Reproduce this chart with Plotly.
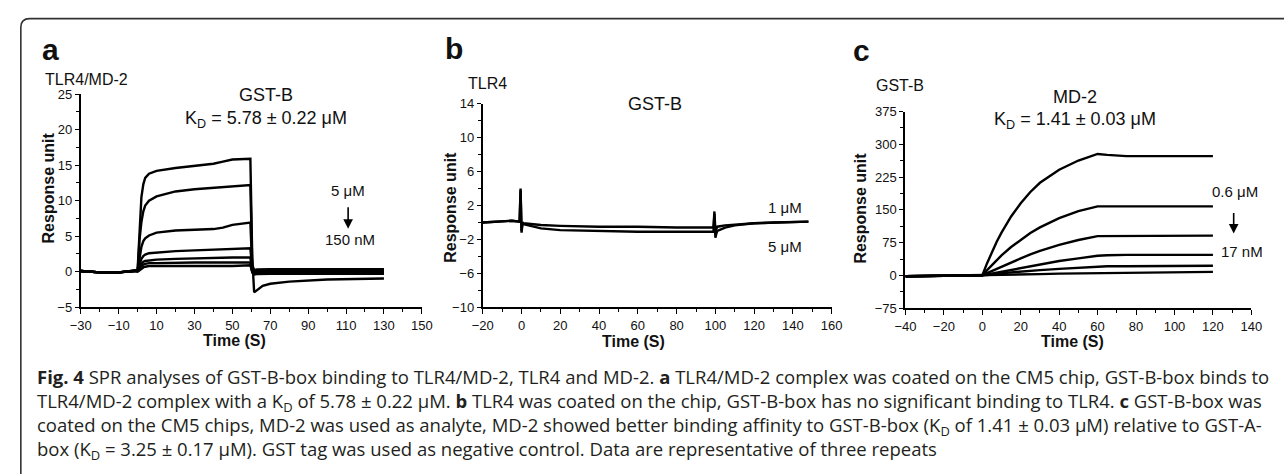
import plotly.graph_objects as go

W, H = 1284, 474

# ---------------- data ----------------
# Panel a: TLR4/MD-2 chip, GST-B analyte (5 uM -> 150 nM)
t_a = [-30, -20, -10, -2, 0, 0.5, 1, 2, 3, 4, 6, 10, 20, 30, 40, 45, 50, 59.5,
       60.5, 61.5, 63, 66, 70, 80, 100, 130]
a_curves = [
    [0.1, -0.1, -0.1, 0.1, 0.3, 3.0, 7.0, 10.5, 12.3, 13.2, 13.8, 14.2, 14.6, 14.9, 15.2, 15.5, 15.8, 15.9,
     2.0, -2.9, -2.6, -2.0, -1.7, -1.4, -1.1, -0.95],
    [0.1, -0.1, -0.1, 0.1, 0.2, 2.0, 4.5, 7.0, 8.5, 9.3, 10.0, 10.6, 11.3, 11.6, 11.8, 11.9, 12.1, 12.2,
     1.0, 0.2, 0.3, 0.35, 0.35, 0.35, 0.35, 0.35],
    [0.1, -0.1, -0.1, 0.1, 0.2, 1.0, 2.0, 3.5, 4.3, 4.7, 5.1, 5.5, 5.8, 5.9, 6.0, 6.2, 6.6, 6.9,
     0.5, 0.1, 0.15, 0.15, 0.15, 0.15, 0.15, 0.15],
    [0.1, -0.1, -0.1, 0.1, 0.1, 0.5, 1.0, 1.8, 2.2, 2.4, 2.6, 2.7, 2.9, 3.0, 3.1, 3.2, 3.3, 3.3,
     0.2, -0.1, 0.0, 0.0, 0.0, 0.0, 0.0, 0.0],
    [0.1, -0.1, -0.1, 0.1, 0.1, 0.3, 0.7, 1.1, 1.4, 1.5, 1.6, 1.7, 1.8, 1.9, 1.9, 2.0, 2.0, 2.0,
     0.0, -0.3, -0.25, -0.2, -0.2, -0.2, -0.2, -0.2],
    [0.1, -0.1, -0.1, 0.1, 0.1, 0.2, 0.5, 0.8, 1.0, 1.1, 1.2, 1.2, 1.3, 1.3, 1.3, 1.3, 1.3, 1.3,
     -0.1, -0.4, -0.35, -0.3, -0.3, -0.3, -0.3, -0.3],
    [0.1, -0.1, -0.1, 0.1, 0.0, 0.1, 0.3, 0.5, 0.6, 0.7, 0.8, 0.8, 0.8, 0.8, 0.7, 0.8, 0.8, 0.9,
     0.0, 0.2, 0.2, 0.2, 0.2, 0.2, 0.2, 0.2],
]

# Panel b: TLR4 chip, GST-B analyte (1 uM and 5 uM)
t_b = [-20, -10, -5, -1, -0.5, 0, 0.5, 1, 5, 10, 20, 40, 60, 80, 99, 99.5, 100, 100.5,
       101, 105, 110, 120, 130, 148]
b_1uM = [0.0, 0.1, 0.2, 0.1, 4.0, -1.0, 0.0, -0.1, -0.2, -0.3, -0.4, -0.5, -0.5, -0.6, -0.6, 1.3,
         -1.0, -0.6, -0.5, -0.35, -0.25, -0.1, 0.0, 0.1]
b_5uM = [0.0, 0.1, 0.2, 0.1, 3.8, -1.2, -0.1, -0.2, -0.4, -0.7, -0.9, -1.0, -1.1, -1.1, -1.1, 1.0,
         -1.8, -1.3, -1.0, -0.6, -0.35, -0.1, 0.0, 0.1]

# Panel c: GST-B chip, MD-2 analyte (0.6 uM -> 17 nM)
t_c = [-40, -20, 0, 2.5, 5, 7.5, 10, 15, 20, 25, 30, 40, 50, 60, 65, 75, 100, 120]
c_curves = [
    [-2, -1, 0, 28, 53, 77, 98, 135, 165, 191, 212, 242, 263, 278, 276, 273, 273, 273],
    [-2, -1, 0, 12, 24, 35, 46, 65, 82, 97, 110, 131, 147, 158, 158, 158, 158, 158],
    [-2, -1, 0, 5, 10, 15, 20, 30, 39, 48, 56, 70, 81, 90, 90, 91, 91, 91],
    [-2, -1, 0, 2, 4, 6, 8, 12, 17, 21, 25, 33, 39, 45, 46, 47, 47, 47],
    [-2, -1, 0, 1, 2, 4, 5, 7, 9, 10.5, 12, 15, 18, 20, 21, 21, 22, 22],
    [-2, -1, 0, 0.5, 0.8, 1, 1.2, 1.6, 2, 2.5, 3, 4, 4.5, 5, 6, 7, 7.5, 8],
]

caption_lines = [
    "<b>Fig. 4</b> SPR analyses of GST-B-box binding to TLR4/MD-2, TLR4 and MD-2. <b>a</b> TLR4/MD-2 complex was coated on the CM5 chip, GST-B-box binds to",
    "TLR4/MD-2 complex with a K<sub>D</sub> of 5.78 ± 0.22 μM. <b>b</b> TLR4 was coated on the chip, GST-B-box has no significant binding to TLR4. <b>c</b> GST-B-box was",
    "coated on the CM5 chips, MD-2 was used as analyte, MD-2 showed better binding affinity to GST-B-box (K<sub>D</sub> of 1.41 ± 0.03 μM) relative to GST-A-",
    "box (K<sub>D</sub> = 3.25 ± 0.17 μM). GST tag was used as negative control. Data are representative of three repeats",
]

# ---------------- helpers ----------------
def px(x):
    return x / W

def py(y):
    return 1 - y / H

FONT = "Liberation Sans, Arial, sans-serif"
LINE = dict(color="black", width=2.4)

fig = go.Figure()

for ys in a_curves:
    fig.add_trace(go.Scatter(x=t_a, y=ys, mode="lines", line=LINE, xaxis="x", yaxis="y",
                             showlegend=False, hoverinfo="skip"))
for ys in (b_1uM, b_5uM):
    fig.add_trace(go.Scatter(x=t_b, y=ys, mode="lines", line=LINE, xaxis="x2", yaxis="y2",
                             showlegend=False, hoverinfo="skip"))
for ys in c_curves:
    fig.add_trace(go.Scatter(x=t_c, y=ys, mode="lines", line=LINE, xaxis="x3", yaxis="y3",
                             showlegend=False, hoverinfo="skip"))

def xax(dom, rng, tick0, dtick, mdt, anchor):
    return dict(domain=[px(dom[0]), px(dom[1])], range=rng, tick0=tick0, dtick=dtick,
                showline=True, linecolor="black", linewidth=2, ticks="outside", ticklen=5,
                tickwidth=1.2, tickcolor="black", showgrid=False, zeroline=False, anchor=anchor,
                tickfont=dict(family=FONT, size=13, color="#111"),
                minor=dict(ticks="outside", dtick=mdt, tick0=tick0, ticklen=3, tickcolor="black", tickwidth=1),
                fixedrange=True)

def yax(dom, rng, tick0, dtick, mdt, anchor):
    return dict(domain=[py(dom[1]), py(dom[0])], range=rng, tick0=tick0, dtick=dtick,
                showline=True, linecolor="black", linewidth=2, ticks="outside", ticklen=4,
                tickwidth=1.2, tickcolor="black", showgrid=False, zeroline=False, anchor=anchor,
                tickfont=dict(family=FONT, size=13, color="#111"),
                minor=dict(ticks="outside", dtick=mdt, tick0=tick0, ticklen=3, tickcolor="black", tickwidth=1),
                fixedrange=True)

fig.update_layout(
    width=W, height=H, autosize=False,
    margin=dict(l=0, r=0, t=0, b=0),
    paper_bgcolor="white", plot_bgcolor="white",
    xaxis=xax((71, 418), [-30, 150], -30, 20, 10, "y"),
    yaxis=yax((90, 310), [-5, 25], -5, 5, 2.5, "x"),
    xaxis2=xax((480, 835), [-20, 160], -20, 20, 10, "y2"),
    yaxis2=yax((100, 310), [-10, 14], -10, 4, 2, "x2"),
    xaxis3=xax((910, 1262), [-40, 140], -40, 20, 10, "y3"),
    yaxis3=yax((108, 311), [-75, 375], -75, 75, 37.5, "x3"),
)

ann = []

def text(x, y, s, size=14, bold=False, xanchor="center", angle=0, family=FONT, color="#111", align="center"):
    ann.append(dict(x=px(x), y=py(y), xref="paper", yref="paper", text=(f"<b>{s}</b>" if bold else s),
                    showarrow=False, xanchor=xanchor, yanchor="middle", textangle=angle, align=align,
                    font=dict(family=family, size=size, color=color)))

def arrow(x, y0, y1):
    ann.append(dict(x=px(x), y=py(y1), xref="paper", yref="paper", ax=0, ay=-(y1 - y0),
                    axref="pixel", ayref="pixel", text="", showarrow=True, arrowhead=2,
                    arrowsize=1.2, arrowwidth=1.6, arrowcolor="black"))

# panel letters
text(40, 44, "a", size=30, bold=True)
text(451, 43, "b", size=30, bold=True)
text(865, 45, "c", size=30, bold=True)

# panel a
text(33, 75, "TLR4/MD-2", size=16, xanchor="left")
text(259, 91, "GST-B", size=18)
text(259, 116, "K<sub>D</sub> = 5.78 ± 0.22 μM", size=18)
text(343, 190, "5 μM", size=15)
arrow(343, 206, 229)
text(345, 240, "150 nM", size=15)
text(38, 187, "Response unit", size=16, bold=True, angle=-90)
text(227, 344, "Time (S)", size=16, bold=True)

# panel b
text(463, 79, "TLR4", size=16, xanchor="left")
text(655, 100, "GST-B", size=18)
text(787, 207, "1 μM", size=15)
text(787, 247, "5 μM", size=15)
text(447, 207, "Response unit", size=16, bold=True, angle=-90)
text(633, 345, "Time (S)", size=16, bold=True)

# panel c
text(878, 81, "GST-B", size=16, xanchor="left")
text(1083, 93, "MD-2", size=18)
text(1083, 117, "K<sub>D</sub> = 1.41 ± 0.03 μM", size=18)
text(1245, 191, "0.6 μM", size=15)
arrow(1244, 212, 234)
text(1252, 253, "17 nM", size=15)
text(864, 208, "Response unit", size=16, bold=True, angle=-90)
text(1080, 345, "Time (S)", size=16, bold=True)

# caption (one block, four lines)
text(24, 420, "<br>".join(caption_lines), size=18.5, xanchor="left", family="Open Sans, sans-serif",
     color="#231f20", align="left")

fig.update_layout(annotations=ann)

# frame (rounded top-left corner, open to the right and bottom)
r = 9
path = (f"M {px(10)},{py(490)} L {px(10)},{py(12 + r)} Q {px(10)},{py(12)} {px(10 + r)},{py(12)} "
        f"L {px(1300)},{py(12)}")
fig.add_shape(type="path", path=path, xref="paper", yref="paper",
              line=dict(color="#333", width=1.6), layer="above")

page_fix = (
    "document.documentElement.style.margin='0';"
    "document.body.style.margin='0';"
    "document.documentElement.style.overflow='hidden';"
    "document.body.style.overflow='hidden';"
    "var d=document.querySelector('.plotly-graph-div');"
    "d.style.position='fixed';d.style.left='0px';d.style.top='0px';"
)
fig.write_html("out.html", config={"displayModeBar": False}, post_script=page_fix)
